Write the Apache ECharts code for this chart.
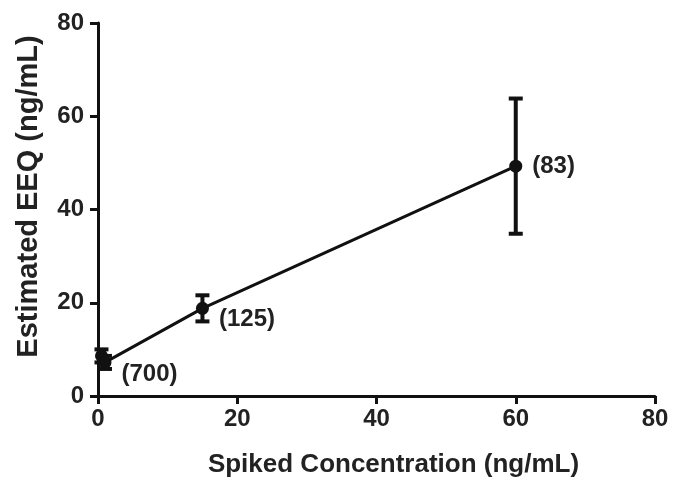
<!DOCTYPE html>
<html><head><meta charset="utf-8">
<script src="https://cdn.jsdelivr.net/npm/echarts@6/dist/echarts.min.js"></script>
<style>html,body{margin:0;padding:0;background:#fff}#c{width:673px;height:483px}</style>
</head><body><div id="c"></div>
<script>
const spiked = [0.5, 1, 15, 60];
const estimated = [8.6, 7.2, 18.8, 49.3];
const errors = [1.4, 1.4, 2.8, 14.5];
const nLabels = ['', '(700)', '(125)', '(83)'];
const xTicks = [0, 20, 40, 60, 80];
const yTicks = [0, 20, 40, 60, 80];

const chart = echarts.init(document.getElementById('c'));
const font = 'Liberation Sans, Arial, sans-serif';
const errData = spiked.map((x, i) => [x, estimated[i] - errors[i], estimated[i] + errors[i]]);
const labelOffsets = [[0,0],[5, 12],[5, 11],[5, 0]];

chart.setOption({
  animation: false,
  grid: {left: 98, right: 18, top: 23, bottom: 86},
  xAxis: {
    type: 'value', min: 0, max: 80, interval: 20,
    name: 'Spiked Concentration (ng/mL)', nameLocation: 'middle', nameGap: 56,
    nameTextStyle: {fontFamily: font, fontWeight: 'bold', fontSize: 26, color: '#222', padding: [0, 0, 0, 34]},
    axisLine: {lineStyle: {color: '#111', width: 3}, onZero: false},
    axisTick: {lineStyle: {color: '#111', width: 3}, length: 8},
    axisLabel: {fontFamily: font, fontWeight: 'bold', fontSize: 24, color: '#222', margin: 11,
      formatter: v => xTicks.includes(v) ? String(v) : ''},
    splitLine: {show: false}
  },
  yAxis: {
    type: 'value', min: 0, max: 80, interval: 20,
    name: 'Estimated EEQ (ng/mL)', nameLocation: 'middle', nameGap: 55,
    nameTextStyle: {fontFamily: font, fontWeight: 'bold', fontSize: 29, color: '#222', padding: [0, 0, 0, 26]},
    axisLine: {show: true, lineStyle: {color: '#111', width: 3}, onZero: false},
    axisTick: {show: true, lineStyle: {color: '#111', width: 3}, length: 8},
    axisLabel: {fontFamily: font, fontWeight: 'bold', fontSize: 24, color: '#222', margin: 14,
      formatter: v => yTicks.includes(v) ? String(v) : ''},
    splitLine: {show: false}
  },
  series: [
    {
      type: 'custom',
      data: errData,
      renderItem: function (params, api) {
        const x = api.value(0);
        const lo = api.coord([x, api.value(1)]);
        const hi = api.coord([x, api.value(2)]);
        const w = 7;
        const st = {stroke: '#111', lineWidth: 4};
        return {type: 'group', children: [
          {type: 'line', shape: {x1: lo[0], y1: lo[1], x2: hi[0], y2: hi[1]}, style: st},
          {type: 'line', shape: {x1: lo[0]-w, y1: lo[1], x2: lo[0]+w, y2: lo[1]}, style: st},
          {type: 'line', shape: {x1: hi[0]-w, y1: hi[1], x2: hi[0]+w, y2: hi[1]}, style: st}
        ]};
      },
      z: 3
    },
    {
      type: 'line',
      data: spiked.map((x, i) => ({
        value: [x, estimated[i]],
        label: {show: nLabels[i] !== '', formatter: nLabels[i], position: 'right',
          offset: labelOffsets[i], fontFamily: font, fontWeight: 'bold', fontSize: 24, color: '#222'}
      })),
      symbol: 'circle', symbolSize: 13,
      lineStyle: {color: '#111', width: 3},
      itemStyle: {color: '#111'},
      z: 4
    }
  ]
});
</script></body></html>
